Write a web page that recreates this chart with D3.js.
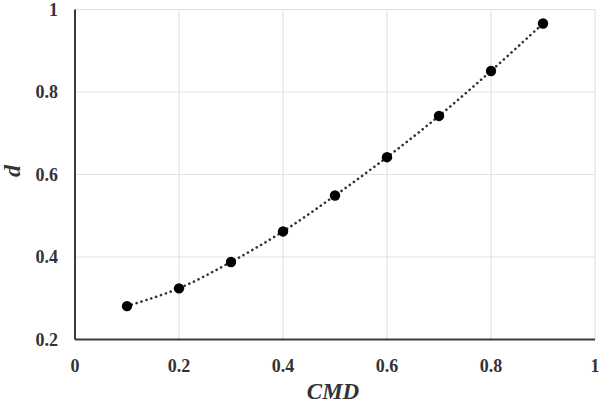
<!DOCTYPE html>
<html><head><meta charset="utf-8">
<script src="https://cdn.jsdelivr.net/npm/d3@7"></script>
<style>body{margin:0;background:#fff}svg{display:block}</style>
</head><body>
<svg id="c" width="608" height="405"></svg>
<script>
const cmd = [0.1,0.2,0.3,0.4,0.5,0.6,0.7,0.8,0.9];
const dVals = [0.281,0.324,0.388,0.462,0.549,0.642,0.742,0.851,0.966];
const xTicks = [0,0.2,0.4,0.6,0.8,1];
const yTicks = [0.2,0.4,0.6,0.8,1];
const xTitle = "CMD", yTitle = "d";

const svg = d3.select("#c");
const x = d3.scaleLinear().domain([0,1]).range([75,595]);
const y = d3.scaleLinear().domain([0.2,1]).range([339.5,9.5]);
const font = "'Liberation Serif','Times New Roman',serif";

// gridlines
svg.append("g").selectAll("line").data(xTicks.filter(t=>t>0)).join("line")
  .attr("x1",d=>x(d)).attr("x2",d=>x(d)).attr("y1",y(1)).attr("y2",y(0.2))
  .attr("stroke","#e2e2e2").attr("stroke-width",1.2);
svg.append("g").selectAll("line").data(yTicks.filter(t=>t>0.2)).join("line")
  .attr("x1",x(0)).attr("x2",x(1)).attr("y1",d=>y(d)).attr("y2",d=>y(d))
  .attr("stroke","#e2e2e2").attr("stroke-width",1.2);

// axes lines
svg.append("line").attr("x1",x(0)).attr("x2",x(0)).attr("y1",y(1)).attr("y2",y(0.2))
  .attr("stroke","#3a3a3a").attr("stroke-width",2);
svg.append("line").attr("x1",x(0)).attr("x2",x(1)).attr("y1",y(0.2)).attr("y2",y(0.2))
  .attr("stroke","#3a3a3a").attr("stroke-width",2);

// tick labels
svg.append("g").selectAll("text").data(yTicks).join("text")
  .attr("x",58).attr("y",d=>y(d)).attr("dy","0.35em").attr("text-anchor","end")
  .attr("font-family",font).attr("font-weight","bold").attr("font-size",18).attr("fill","#333")
  .text(d=>d3.format("")(d));
svg.append("g").selectAll("text").data(xTicks).join("text")
  .attr("x",d=>x(d)).attr("y",372).attr("text-anchor","middle")
  .attr("font-family",font).attr("font-weight","bold").attr("font-size",18).attr("fill","#333")
  .text(d=>d3.format("")(d));

// titles
svg.append("text").attr("x",333).attr("y",399).attr("text-anchor","middle")
  .attr("font-family",font).attr("font-weight","bold").attr("font-style","italic")
  .attr("font-size",23).attr("fill","#333").text(xTitle);
svg.append("text").attr("transform","translate(20,171) rotate(-90)").attr("text-anchor","middle")
  .attr("font-family",font).attr("font-weight","bold").attr("font-style","italic")
  .attr("font-size",24).attr("fill","#333").text(yTitle);

// dotted line
const pts = cmd.map((c,i)=>[c,dVals[i]]);
const line = d3.line().x(d=>x(d[0])).y(d=>y(d[1])).curve(d3.curveCatmullRom);
svg.append("path").attr("d",line(pts)).attr("fill","none")
  .attr("stroke","#333").attr("stroke-width",2.6).attr("stroke-linecap","round")
  .attr("stroke-dasharray","0.1,5");

// markers
svg.append("g").selectAll("circle").data(pts).join("circle")
  .attr("cx",d=>x(d[0])).attr("cy",d=>y(d[1])).attr("r",5.2).attr("fill","#000");
</script>
</body></html>
